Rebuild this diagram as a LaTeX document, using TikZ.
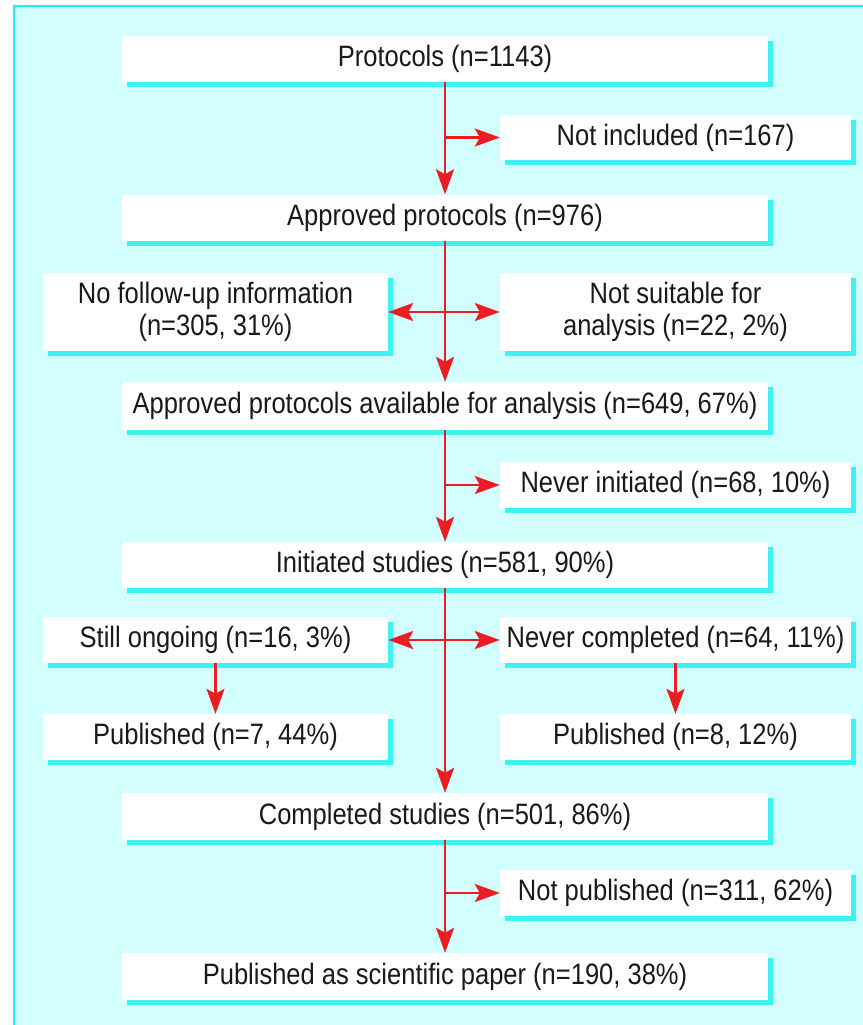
\documentclass[tikz,border=0pt]{standalone}
\usepackage{fontspec}
\setmainfont[FakeStretch=0.865]{Liberation Sans}
\usetikzlibrary{arrows.meta,shadows}
\definecolor{bgcyan}{HTML}{D2FEFE}
\definecolor{edgecyan}{HTML}{22EEEE}
\definecolor{shcyan}{HTML}{3CF2F2}
\definecolor{arrred}{HTML}{EC1C24}
\begin{document}
\begin{tikzpicture}[x=1pt,y=-1pt,
  box/.style={fill=white, inner sep=0pt, align=center, font=\fontsize{29.5}{31.5}\selectfont,
    text=black!90,
    drop shadow={shadow xshift=5pt, shadow yshift=-5pt, fill=shcyan, opacity=1}},
  mainbox/.style={box, minimum width=646pt},
  rbox/.style={box, minimum width=351pt},
  lbox/.style={box, minimum width=345pt},
  arr/.style={draw=arrred, line width=2.4pt, -{Stealth[length=25pt,width=18pt,inset=5pt]}}]
\useasboundingbox (0,0) rectangle (862,1025);
\fill[white] (0,0) rectangle (862,1025);
\filldraw[fill=bgcyan, draw=edgecyan, line width=2.5pt] (14,6) rectangle (880,1045);
% main column
\node[mainbox, minimum height=46pt] (prot) at (445,59) {Protocols (n=1143)};
\node[mainbox, minimum height=46pt] (appr) at (445,217.5) {Approved protocols (n=976)};
\node[mainbox, minimum height=48pt] (avail) at (445,406) {Approved protocols available for analysis (n=649, 67\%)};
\node[mainbox, minimum height=46pt] (init) at (445,565) {Initiated studies (n=581, 90\%)};
\node[mainbox, minimum height=47pt] (comp) at (445,816.5) {Completed studies (n=501, 86\%)};
\node[mainbox, minimum height=47pt] (pub) at (445,976.5) {Published as scientific paper (n=190, 38\%)};
% right column
\node[rbox, minimum height=45pt] (notinc) at (675.5,137.5) {Not included (n=167)};
\node[rbox, minimum height=78pt] (notsuit) at (675.5,312) {Not suitable for\\analysis (n=22, 2\%)};
\node[rbox, minimum height=46pt] (never) at (675.5,485) {Never initiated (n=68, 10\%)};
\node[rbox, minimum height=46pt] (nevcomp) at (675.5,640) {Never completed (n=64, 11\%)};
\node[rbox, minimum height=46pt] (pubr) at (675.5,737) {Published (n=8, 12\%)};
\node[rbox, minimum height=46pt] (notpub) at (675.5,893) {Not published (n=311, 62\%)};
% left column
\node[lbox, minimum height=78pt] (nofu) at (215.5,312) {No follow-up information\\(n=305, 31\%)};
\node[lbox, minimum height=46pt] (ongo) at (215.5,640) {Still ongoing (n=16, 3\%)};
\node[lbox, minimum height=46pt] (publ) at (215.5,737) {Published (n=7, 44\%)};
% connectors
\draw[arr] (prot.south) -- (appr.north);
\draw[arr] (prot.south |- notinc.west) -- (notinc.west);
\draw[arr] (appr.south) -- (avail.north);
\draw[arr] (appr.south |- notsuit.west) -- (notsuit.west);
\draw[arr] (appr.south |- nofu.east) -- (nofu.east);
\draw[arr] (avail.south) -- (init.north);
\draw[arr] (avail.south |- never.west) -- (never.west);
\draw[arr] (init.south) -- (comp.north);
\draw[arr] (init.south |- nevcomp.west) -- (nevcomp.west);
\draw[arr] (init.south |- ongo.east) -- (ongo.east);
\draw[arr] (ongo.south) -- (publ.north);
\draw[arr] (nevcomp.south) -- (pubr.north);
\draw[arr] (comp.south) -- (pub.north);
\draw[arr] (comp.south |- notpub.west) -- (notpub.west);
\end{tikzpicture}
\end{document}
